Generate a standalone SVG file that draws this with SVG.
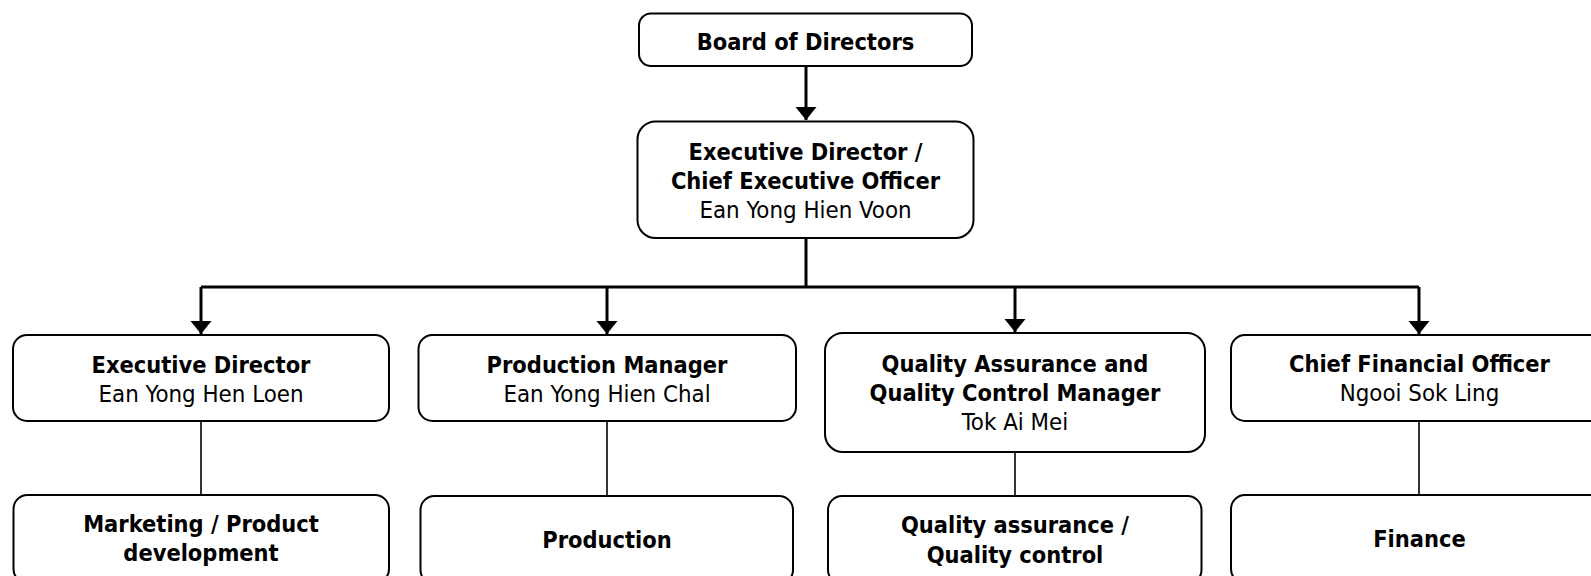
<svg xmlns="http://www.w3.org/2000/svg" width="1591" height="576" viewBox="0 0 1591 576">
  <style>
    .box { fill: #ffffff; stroke: #000000; stroke-width: 2; }
    .t { font-family: "DejaVu Sans Condensed", "DejaVu Sans", Verdana, sans-serif; font-size: 23.4px; fill: #000000; text-anchor: middle; }
    .r { font-size: 23.8px; }
    .b { font-weight: bold; }
    .main { fill: none; stroke: #000000; stroke-width: 3; }
    .thin { fill: none; stroke: #000000; stroke-width: 1.6; }
  </style>
  <defs>
    <marker id="arrow" markerUnits="userSpaceOnUse" markerWidth="14" markerHeight="22" refX="13" refY="11" orient="auto">
      <path d="M0,0.5 L13,11 L0,21.5 Z" fill="#000000"/>
    </marker>
  </defs>
  <rect width="1591" height="576" fill="#ffffff"/>

  <!-- connectors -->
  <g id="connectors">
    <path class="main" d="M806,66 V120" marker-end="url(#arrow)"/>
    <path class="main" d="M806,238 V287"/>
    <path class="main" d="M201,287 H1419"/>
    <path class="main" d="M201,287 V334" marker-end="url(#arrow)"/>
    <path class="main" d="M607,287 V334" marker-end="url(#arrow)"/>
    <path class="main" d="M1015,287 V332" marker-end="url(#arrow)"/>
    <path class="main" d="M1419,287 V334" marker-end="url(#arrow)"/>
    <path class="thin" d="M201,421 V495"/>
    <path class="thin" d="M607,421 V496"/>
    <path class="thin" d="M1015,452 V496"/>
    <path class="thin" d="M1419,421 V495"/>
  </g>

  <!-- top level -->
  <g id="board">
    <rect class="box" x="639" y="13.5" width="333" height="52.5" rx="12"/>
    <text class="t b" x="805.5" y="50">Board of Directors</text>
  </g>
  <g id="ceo">
    <rect class="box" x="637.5" y="121.5" width="336" height="116.5" rx="18"/>
    <text class="t b" x="805.5" y="160">Executive Director /</text>
    <text class="t b" x="805.5" y="189">Chief Executive Officer</text>
    <text class="t r" x="805.5" y="218">Ean Yong Hien Voon</text>
  </g>

  <!-- managers -->
  <g id="exec-director">
    <rect class="box" x="13" y="335" width="376" height="86" rx="14"/>
    <text class="t b" x="201" y="373">Executive Director</text>
    <text class="t r" x="201" y="402">Ean Yong Hen Loen</text>
  </g>
  <g id="production-manager">
    <rect class="box" x="418.5" y="335" width="377.5" height="86" rx="14"/>
    <text class="t b" x="607" y="373">Production Manager</text>
    <text class="t r" x="607" y="402">Ean Yong Hien Chal</text>
  </g>
  <g id="qa-manager">
    <rect class="box" x="825" y="333" width="380" height="119" rx="18"/>
    <text class="t b" x="1015" y="372">Quality Assurance and</text>
    <text class="t b" x="1015" y="401">Quality Control Manager</text>
    <text class="t r" x="1015" y="430">Tok Ai Mei</text>
  </g>
  <g id="cfo">
    <rect class="box" x="1231" y="335" width="376" height="86" rx="14"/>
    <text class="t b" x="1419.5" y="372">Chief Financial Officer</text>
    <text class="t r" x="1419.5" y="401">Ngooi Sok Ling</text>
  </g>

  <!-- departments -->
  <g id="marketing">
    <rect class="box" x="13.5" y="495" width="375.5" height="88" rx="14"/>
    <text class="t b" x="201" y="532">Marketing / Product</text>
    <text class="t b" x="201" y="561">development</text>
  </g>
  <g id="production">
    <rect class="box" x="420.5" y="496" width="372.5" height="88" rx="14"/>
    <text class="t b" x="607" y="548">Production</text>
  </g>
  <g id="quality">
    <rect class="box" x="828" y="496" width="373.5" height="88" rx="14"/>
    <text class="t b" x="1015" y="533">Quality assurance /</text>
    <text class="t b" x="1015" y="563">Quality control</text>
  </g>
  <g id="finance">
    <rect class="box" x="1231" y="495" width="376" height="88" rx="14"/>
    <text class="t b" x="1419.5" y="547">Finance</text>
  </g>
</svg>
